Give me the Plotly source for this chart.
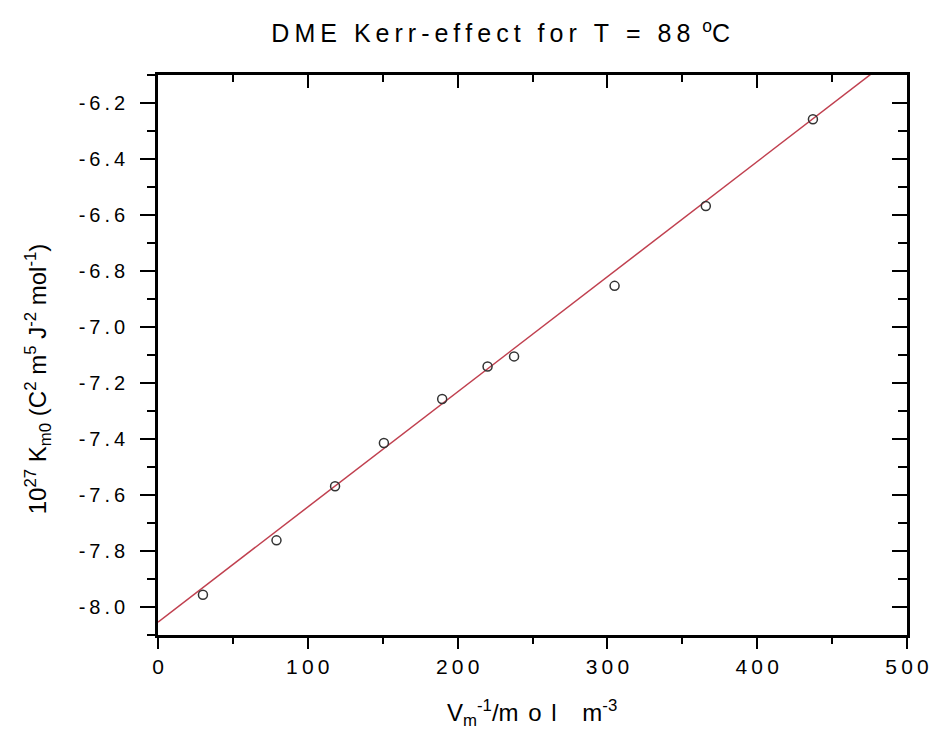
import plotly.graph_objects as go

# ---- data ----
v_inv = [30.0, 79.1, 118.2, 150.8, 189.7, 220.0, 237.7, 304.8, 365.7, 437.2]
k_m0 = [-7.956, -7.762, -7.569, -7.414, -7.257, -7.141, -7.105, -6.853, -6.568, -6.258]
fit_x = [0, 500]
fit_y = [-8.054, -5.998]

x_tick_vals = [0, 100, 200, 300, 400, 500]
x_tick_labels = ["0", "100", "200", "300", "400", "500"]
y_tick_vals = [-8.0, -7.8, -7.6, -7.4, -7.2, -7.0, -6.8, -6.6, -6.4, -6.2]
y_tick_labels = ["-8.0", "-7.8", "-7.6", "-7.4", "-7.2", "-7.0", "-6.8", "-6.6", "-6.4", "-6.2"]

THIN = "\u2009"
PAD = "<span style='color:rgba(255,255,255,0)'>0</span>"


def spaced(s, sep=THIN):
    return sep.join(list(s))


FONT = "Liberation Sans, Arial, sans-serif"

fig = go.Figure()
fig.add_trace(go.Scatter(x=fit_x, y=fit_y, mode="lines",
                         line=dict(color="#c0404f", width=1.5),
                         hoverinfo="skip", showlegend=False))
fig.add_trace(go.Scatter(x=v_inv, y=k_m0, mode="markers",
                         marker=dict(symbol="circle-open", size=9,
                                     color="#333333", line=dict(width=1.5)),
                         showlegend=False))
# invisible trace to activate mirrored axes
fig.add_trace(go.Scatter(x=v_inv, y=k_m0, xaxis="x2", yaxis="y2", mode="markers",
                         marker=dict(opacity=0), hoverinfo="skip", showlegend=False))

axis_common = dict(showline=True, linecolor="black", linewidth=2.5, automargin=False,
                   showgrid=False, zeroline=False, tickcolor="black", tickwidth=2)

fig.update_layout(
    width=929, height=740,
    margin=dict(l=158, r=22, t=75, b=105),
    paper_bgcolor="white", plot_bgcolor="white",
    font=dict(family=FONT, color="black"),
    title=dict(text=spaced("DME Kerr-effect for T = 88 ") + "<sup>o</sup>C",
               x=0.539, xanchor="center", y=0.955, yanchor="middle",
               font=dict(size=25, family=FONT, color="black")),
    xaxis=dict(range=[0, 500], tickvals=x_tick_vals,
               ticktext=[spaced(t) for t in x_tick_labels],
               ticks="outside", ticklen=11,
               minor=dict(dtick=50, ticks="outside", ticklen=6, tickwidth=2, tickcolor="black"),
               tickfont=dict(size=21, family=FONT), **axis_common),
    yaxis=dict(range=[-8.1, -6.1], tickvals=y_tick_vals,
               ticktext=[spaced(t) + PAD for t in y_tick_labels],
               ticks="outside", ticklen=15,
               minor=dict(dtick=0.1, tick0=0, ticks="outside", ticklen=8, tickwidth=2, tickcolor="black"),
               tickfont=dict(size=20, family=FONT), **axis_common),
    xaxis2=dict(range=[0, 500], overlaying="x", side="top", tickvals=x_tick_vals,
                showticklabels=False, ticks="inside", ticklen=13,
                minor=dict(dtick=50, ticks="inside", ticklen=7, tickwidth=2, tickcolor="black"),
                **axis_common),
    yaxis2=dict(range=[-8.1, -6.1], overlaying="y", side="right", tickvals=y_tick_vals,
                showticklabels=False, ticks="inside", ticklen=15,
                minor=dict(dtick=0.1, tick0=0, ticks="inside", ticklen=9, tickwidth=2, tickcolor="black"),
                **axis_common),
)

fig.add_annotation(
    text="10<sup>27</sup> K<sub>m</sub><sub>0</sub> (C<sup>2</sup> m<sup>5</sup> J<sup>-2</sup> mol<sup>-1</sup>)",
    xref="paper", yref="paper", x=-0.160, y=0.457, xanchor="center", yanchor="middle",
    textangle=-90, showarrow=False, font=dict(size=24, family=FONT, color="black"))

fig.add_annotation(
    text="V<sub>m</sub><sup>-1</sup>/" + spaced("mol m", THIN + THIN) + "<sup>-3</sup>",
    xref="paper", yref="paper", x=0.4987, y=-0.139, xanchor="center", yanchor="middle",
    showarrow=False, font=dict(size=24, family=FONT, color="black"))

fig.write_html("out.html")
